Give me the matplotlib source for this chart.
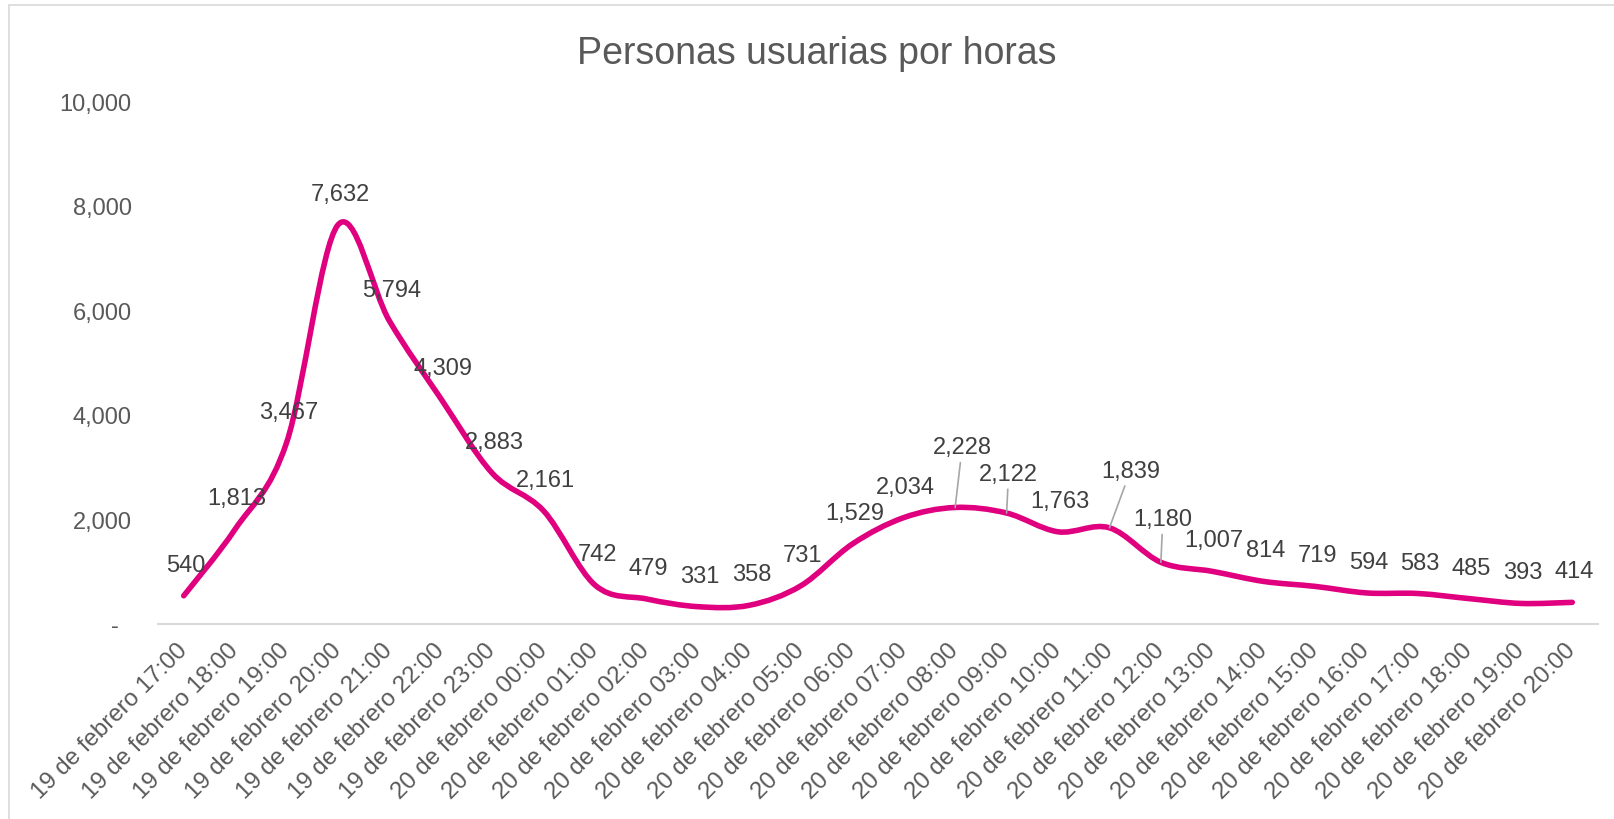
import matplotlib
matplotlib.use("Agg")
import matplotlib.pyplot as plt
from matplotlib.path import Path
from matplotlib.patches import PathPatch, Rectangle

plt.rcParams['font.family'] = ['Liberation Sans', 'DejaVu Sans']

# Datos del gráfico
horas = ["19 de febrero 17:00", "19 de febrero 18:00", "19 de febrero 19:00",
         "19 de febrero 20:00", "19 de febrero 21:00", "19 de febrero 22:00",
         "19 de febrero 23:00", "20 de febrero 00:00", "20 de febrero 01:00",
         "20 de febrero 02:00", "20 de febrero 03:00", "20 de febrero 04:00",
         "20 de febrero 05:00", "20 de febrero 06:00", "20 de febrero 07:00",
         "20 de febrero 08:00", "20 de febrero 09:00", "20 de febrero 10:00",
         "20 de febrero 11:00", "20 de febrero 12:00", "20 de febrero 13:00",
         "20 de febrero 14:00", "20 de febrero 15:00", "20 de febrero 16:00",
         "20 de febrero 17:00", "20 de febrero 18:00", "20 de febrero 19:00",
         "20 de febrero 20:00"]
usuarias = [540, 1813, 3467, 7632, 5794, 4309, 2883, 2161, 742, 479, 331, 358,
            731, 1529, 2034, 2228, 2122, 1763, 1839, 1180, 1007, 814, 719, 594,
            583, 485, 393, 414]
ticks_y = [0, 2000, 4000, 6000, 8000, 10000]

titulo = "Personas usuarias por horas"
color_linea = "#E0007F"

# etiquetas movidas a mano (con línea guía), desplazamiento en píxeles
etiquetas_movidas = {15: (7, 60), 16: (2, 39), 18: (21, 57), 19: (2, 43)}


def curva_suave(xs, ys):
    """Curva suavizada tipo Excel (Bezier por tramos)."""
    n = len(xs)
    verts = [(xs[0], ys[0])]
    codes = [Path.MOVETO]
    for i in range(n - 1):
        a = max(i - 1, 0)
        d = min(i + 2, n - 1)
        c1 = (xs[i] + (xs[i + 1] - xs[a]) / 6, ys[i] + (ys[i + 1] - ys[a]) / 6)
        c2 = (xs[i + 1] - (xs[d] - xs[i]) / 6, ys[i + 1] - (ys[d] - ys[i]) / 6)
        verts += [c1, c2, (xs[i + 1], ys[i + 1])]
        codes += [Path.CURVE4] * 3
    return Path(verts, codes)


fig = plt.figure(figsize=(16.15, 8.2), dpi=100)
ax = fig.add_axes([158 / 1615, 195 / 820, 1440 / 1615, 523 / 820])

# borde del área del gráfico
fig.patches.append(Rectangle((9 / 1615, -0.1), 1.2, 1.1 - 6 / 820, transform=fig.transFigure,
                             fill=False, edgecolor="#d9d9d9", lw=1.2))

x = list(range(len(usuarias)))
ax.add_patch(PathPatch(curva_suave(x, usuarias), fill=False, edgecolor=color_linea,
                       lw=4, capstyle='round', joinstyle='round', zorder=3))

ax.set_xlim(-0.5, len(usuarias) - 0.5)
ax.set_ylim(0, 10000)

for s in ["top", "right", "left"]:
    ax.spines[s].set_visible(False)
ax.spines["bottom"].set_color("#d9d9d9")
ax.spines["bottom"].set_linewidth(1.5)

ax.set_yticks(ticks_y)
ax.set_yticklabels(["-  "] + [f"{v:,}" for v in ticks_y[1:]])
ax.tick_params(axis='y', length=0, pad=19, labelsize=17, labelcolor="#595959")

ax.set_xticks(x)
ax.set_xticklabels(horas, rotation=45, ha='right', va='center', rotation_mode='anchor')
ax.tick_params(axis='x', length=0, pad=16, labelsize=17.3, labelcolor="#595959")

# etiquetas de datos
for i, v in enumerate(usuarias):
    if i in etiquetas_movidas:
        dx, dy = etiquetas_movidas[i]
        ax.annotate(f"{v:,}", (i, v), xytext=(dx, dy), textcoords='offset pixels',
                    ha='center', va='center', fontsize=17, color="#404040",
                    arrowprops=dict(arrowstyle='-', color="#a6a6a6", lw=1.2,
                                    shrinkA=1, shrinkB=0), zorder=4)
    else:
        ax.annotate(f"{v:,}", (i, v), xytext=(2, 31), textcoords='offset pixels',
                    ha='center', va='center', fontsize=17, color="#404040", zorder=4)

fig.text(817 / 1615, 1 - 64 / 820, titulo, ha='center', va='baseline',
         fontsize=27, color="#595959")

fig.savefig("out.png", dpi=100)
